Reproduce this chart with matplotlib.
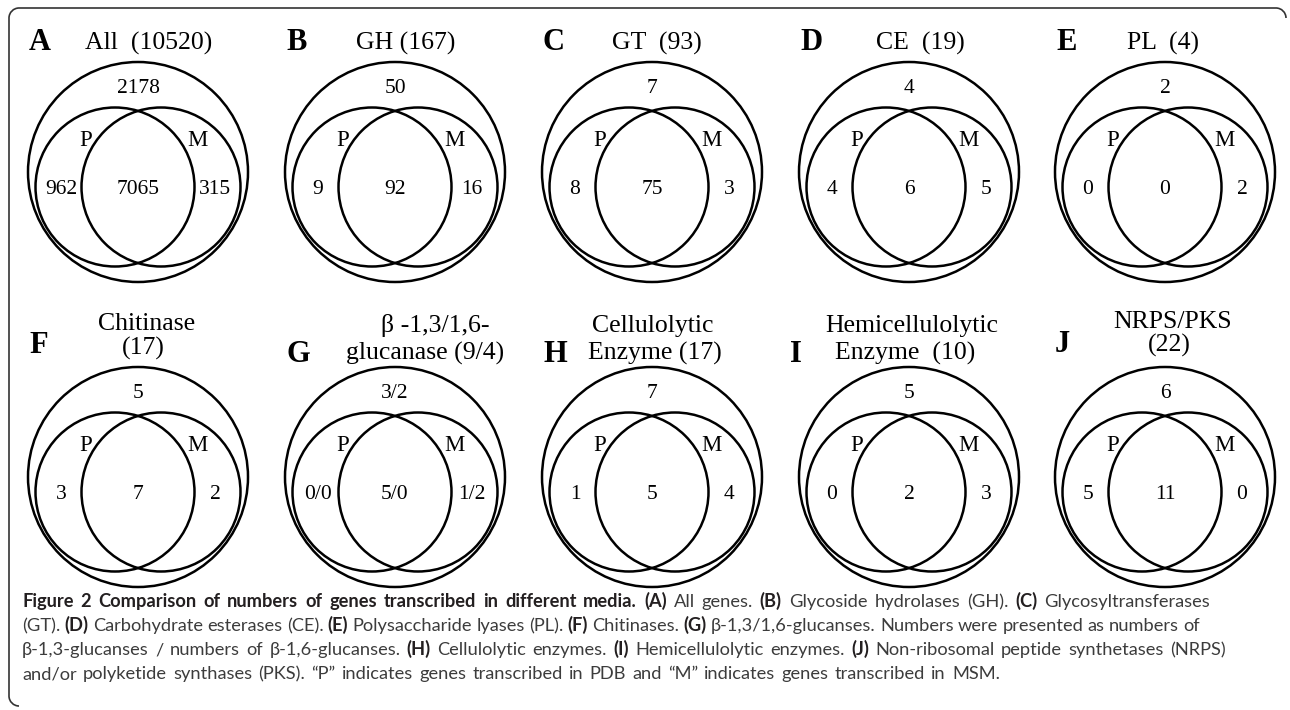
import matplotlib
matplotlib.use('agg')

import matplotlib.pyplot as plt
from matplotlib.patches import Circle, PathPatch
from matplotlib.path import Path

# ---- data -------------------------------------------------------------
letters = ['A', 'B', 'C', 'D', 'E', 'F', 'G', 'H', 'I', 'J']
titles = [
    ['All  (10520)'], ['GH (167)'], ['GT  (93)'], ['CE  (19)'], ['PL  (4)'],
    ['Chitinase', '(17)'], ['\u03b2 -1,3/1,6-', 'glucanase (9/4)'],
    ['Cellulolytic', 'Enzyme (17)'], ['Hemicellulolytic', 'Enzyme  (10)'],
    ['NRPS/PKS', '(22)'],
]
# counts: outside both sets, P only, P and M, M only
neither = ['2178', '50', '7', '4', '2', '5', '3/2', '7', '5', '6']
p_only = ['962', '9', '8', '4', '0', '3', '0/0', '1', '0', '5']
both = ['7065', '92', '75', '6', '0', '7', '5/0', '5', '2', '11']
m_only = ['315', '16', '3', '5', '2', '2', '1/2', '4', '3', '0']

caption = [
    "**Figure 2 Comparison of numbers of genes transcribed in different media.** **(A)** All genes. "
    "**(B)** Glycoside hydrolases (GH). **(C)** Glycosyltransferases",
    "(GT). **(D)** Carbohydrate esterases (CE). **(E)** Polysaccharide lyases (PL). **(F)** Chitinases. "
    "**(G)** \u03b2-1,3/1,6-glucanses. Numbers were presented as numbers of",
    "\u03b2-1,3-glucanses / numbers of \u03b2-1,6-glucanses. **(H)** Cellulolytic enzymes. "
    "**(I)** Hemicellulolytic enzymes. **(J)** Non-ribosomal peptide synthetases (NRPS)",
    "and/or polyketide synthases (PKS). \u201cP\u201d indicates genes transcribed in PDB and "
    "\u201cM\u201d indicates genes transcribed in MSM.",
]

# ---- layout (pixels) --------------------------------------------------
W, H = 1290, 710
col_x = [138, 395, 652, 909, 1165]
row_y = [172, 477]
R_OUT, R_IN, DX_IN, DY_IN = 110, 79.5, 23, 15
title_dx = [(11,), (11,), (5,), (11,), (-2,), (9, 5), (40, 30), (1, 3), (3, -4), (8, 4)]
title_base = [-122] * 5 + [-122, -117, -117, -117, -125]
title_gap = [0] * 5 + [25, 28, 28, 28, 24]
letter_base = [-122] * 5 + [-124, -115, -115, -115, -125]
letter_dx = [-109] * 8 + [-119, -110]

SERIF = 'Liberation Serif'
LW = 1.8

fig = plt.figure(figsize=(W / 100, H / 100), dpi=100)
ax = fig.add_axes([0, 0, 1, 1])
ax.set_xlim(0, W)
ax.set_ylim(H, 0)
ax.axis('off')

for i in range(10):
    cx = col_x[i % 5]
    cy = row_y[i // 5]
    ax.add_patch(Circle((cx, cy), R_OUT, fill=False, lw=LW, ec='black'))
    ax.add_patch(Circle((cx - DX_IN, cy + DY_IN), R_IN, fill=False, lw=LW, ec='black'))
    ax.add_patch(Circle((cx + DX_IN, cy + DY_IN), R_IN, fill=False, lw=LW, ec='black'))

    ax.text(cx + letter_dx[i], cy + letter_base[i], letters[i], family=SERIF,
            weight='bold', fontsize=22, ha='left', va='baseline')
    lines = titles[i]
    for k, line in enumerate(lines):
        y = cy + title_base[i] - title_gap[i] * (len(lines) - 1 - k)
        ax.text(cx + title_dx[i][k], y, line, family=SERIF, fontsize=18.5,
                ha='center', va='baseline')

    kw = dict(family=SERIF, ha='center', va='baseline')
    ax.text(cx, cy - 79, neither[i], fontsize=15.5, **kw)
    ax.text(cx - 52, cy - 26, 'P', fontsize=16.5, **kw)
    ax.text(cx + 59, cy - 26, 'M', fontsize=16.5, **kw)
    ax.text(cx - 77, cy + 22, p_only[i], fontsize=15.5, **kw)
    ax.text(cx, cy + 22, both[i], fontsize=15.5, **kw)
    ax.text(cx + 77, cy + 22, m_only[i], fontsize=15.5, **kw)

# ---- caption, drawn word by word --------------------------------------
fig.canvas.draw()
renderer = fig.canvas.get_renderer()
CAP_FONT = 'Lato'


def width(s, bold, size):
    t = ax.text(0, 0, s, family=CAP_FONT, fontsize=size,
                weight='bold' if bold else 'normal')
    w = t.get_window_extent(renderer).width
    t.remove()
    return w


def tokens(line):
    out = []
    for j, part in enumerate(line.split('**')):
        for word in part.split():
            out.append((word, j % 2 == 1))
    return out


def line_width(line, size):
    toks = tokens(line)
    sp = width('a a', False, size) - width('aa', False, size)
    return sum(width(w, b, size) for w, b in toks) + sp * (len(toks) - 1)


CAP_LEFT = 22
cap_right = [1245, 1200, 1226, 1000]
cap_y = [607, 631, 655, 679]

cap_size = 13
cap_size *= min((r - CAP_LEFT) / line_width(c, cap_size)
                for c, r in zip(caption, cap_right))
space = width('a a', False, cap_size) - width('aa', False, cap_size)

for line, y, right in zip(caption, cap_y, cap_right):
    toks = tokens(line)
    widths = [width(w, b, cap_size) for w, b in toks]
    sp = (right - CAP_LEFT - sum(widths)) / (len(toks) - 1)
    sp = min(sp, 1.5 * space)
    x = CAP_LEFT
    for (word, bold), w in zip(toks, widths):
        ax.text(x, y, word, family=CAP_FONT, fontsize=cap_size,
                weight='bold' if bold else 'normal',
                color='#231f20' if bold else '#3c3c3c', va='baseline')
        x += w + sp

# ---- frame: left and top edges with rounded corners -------------------
r = 10
x0, x1, y0, y1 = 9, 1286, 8, 706
k = 0.55 * r
verts = [(x0 + r, y1), (x0 + r - k, y1), (x0, y1 - r + k), (x0, y1 - r),
         (x0, y0 + r), (x0, y0 + r - k), (x0 + r - k, y0), (x0 + r, y0),
         (x1 - r, y0), (x1 - r + k, y0), (x1, y0 + r - k), (x1, y0 + r)]
codes = [Path.MOVETO, Path.CURVE4, Path.CURVE4, Path.CURVE4,
         Path.LINETO, Path.CURVE4, Path.CURVE4, Path.CURVE4,
         Path.LINETO, Path.CURVE4, Path.CURVE4, Path.CURVE4]
ax.add_patch(PathPatch(Path(verts, codes), fill=False, lw=1.2, ec='#333333'))

fig.savefig('out.png', dpi=100)
